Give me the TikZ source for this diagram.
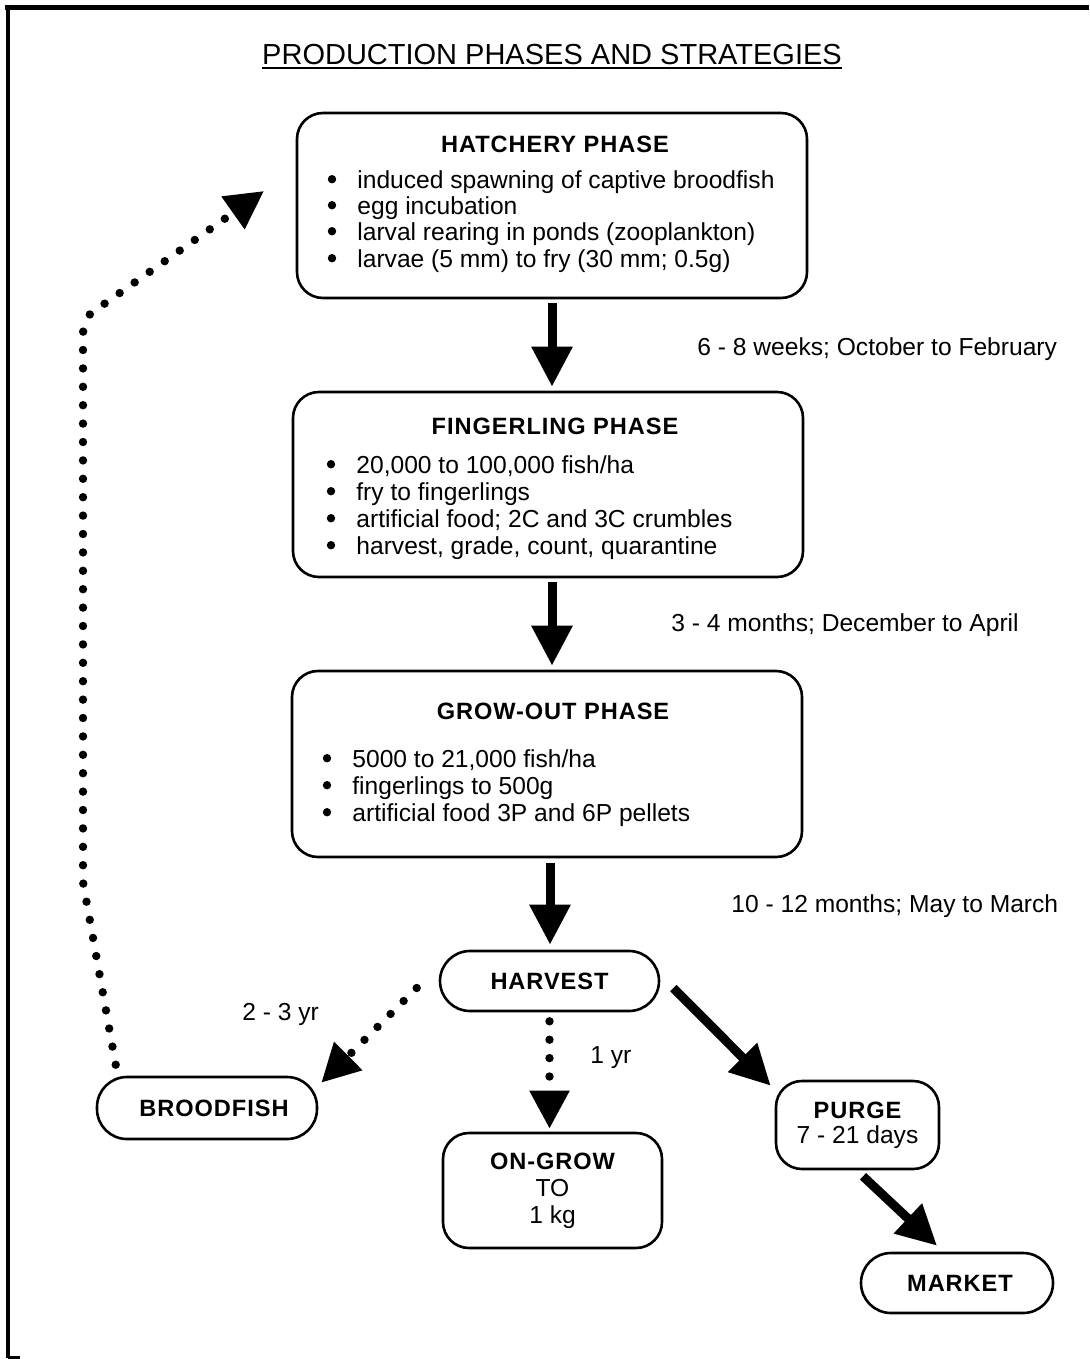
\documentclass[tikz,border=0pt]{standalone}
\usepackage{fontspec}
\setmainfont{Liberation Sans}
\usetikzlibrary{arrows.meta}
\newcommand\hdfont{\fontsize{11.8}{14}\selectfont\bfseries\addfontfeature{LetterSpace=4}}
\begin{document}
\begin{tikzpicture}[x=0.5pt,y=-0.5pt,
  box/.style={draw, line width=1.3pt, rounded corners=13pt, inner sep=0pt},
  pill/.style={draw, line width=1.3pt, rounded corners=15pt, inner sep=0pt,
    font=\hdfont},
  hd/.style={font=\hdfont, inner sep=0pt, anchor=base},
  txt/.style={font=\fontsize{12.3}{15}\selectfont, inner sep=0pt, anchor=base west},
  bigarrow/.style={line width=4.5pt, -{Triangle[length=20pt,width=19.5pt]}},
  dotarrow/.style={line width=4.2pt, dash pattern=on 0pt off 9.2pt, line cap=round,
    -{Triangle[length=19pt,width=19pt]}},
]
\useasboundingbox (0,0) rectangle (1089,1359);
% frame
\draw[line width=2.5pt] (5,8) -- (1089,8);
\draw[line width=2pt] (8,8) -- (8,1358);
\draw[line width=1.5pt] (8,1357) -- (20,1357);

% title
\node[font=\fontsize{14.5}{17}\selectfont, inner sep=0pt, anchor=base] (title) at (552,65) {PRODUCTION PHASES AND STRATEGIES};
\draw[line width=1pt] ([yshift=-1.4pt]title.base west) -- ([yshift=-1.4pt]title.base east);

% hatchery
\node[box, minimum width=255pt, minimum height=92.5pt] (hatch) at (552,205.5) {};
\node[hd] (hatchT) at (555,153) {HATCHERY PHASE};
\node[txt] (h1) at (357,188) {induced spawning of captive broodfish};
\node[txt] (h2) at (357,214) {egg incubation};
\node[txt] (h3) at (357,240) {larval rearing in ponds (zooplankton)};
\node[txt] (h4) at (357,267) {larvae (5 mm) to fry (30 mm; 0.5g)};

% fingerling
\node[box, minimum width=255pt, minimum height=92.5pt] (fing) at (548,484.5) {};
\node[hd] (fingT) at (555,434) {FINGERLING PHASE};
\node[txt] (f1) at (356,473) {20,000 to 100,000 fish/ha};
\node[txt] (f2) at (356,500) {fry to fingerlings};
\node[txt] (f3) at (356,527) {artificial food; 2C and 3C crumbles};
\node[txt] (f4) at (356,554) {harvest, grade, count, quarantine};

% grow-out
\node[box, minimum width=255pt, minimum height=93pt] (grow) at (547,764) {};
\node[hd] (growT) at (553,719) {GROW-OUT PHASE};
\node[txt] (g1) at (352,767) {5000 to 21,000 fish/ha};
\node[txt] (g2) at (352,794) {fingerlings to 500g};
\node[txt] (g3) at (352,821) {artificial food 3P and 6P pellets};

% bullets
\foreach \n in {h1,h2,h3,h4,f1,f2,f3,f4,g1,g2,g3}
  \fill ([xshift=-12.5pt,yshift=4.4pt]\n.base west) circle (2.1pt);

% small nodes
\node[pill, minimum width=109.5pt, minimum height=30pt] (harv) at (549.5,981) {HARVEST\hspace{10pt}};
\node[pill, minimum width=110pt, minimum height=31pt] (brood) at (207,1108) {\hspace{7pt}BROODFISH};
\node[pill, minimum width=96pt, minimum height=30pt] (market) at (957,1283) {\hspace{3pt}MARKET};
\node[box, minimum width=81.5pt, minimum height=44pt, align=center,
  font=\fontsize{12.3}{12.5}\selectfont] (purge) at (857.5,1125)
  {{\hdfont PURGE}\\7 - 21 days};
\node[box, minimum width=109.5pt, minimum height=57.5pt, align=center,
  font=\fontsize{12.3}{13.5}\selectfont] (ongrow) at (552.5,1190.5)
  {{\hdfont ON-GROW}\\TO\\1 kg};

% labels
\node[txt] (l1) at (697,355) {6 - 8 weeks; October to February};
\node[txt] (l2) at (671,631) {3 - 4 months; December to April};
\node[txt] (l3) at (731,912) {10 - 12 months; May to March};
\node[txt] (l4) at (242,1020) {2 - 3 yr};
\node[txt] (l5) at (590,1063) {1 yr};

% solid arrows
\draw[bigarrow] ([yshift=-2pt]hatch.south) -- ([yshift=2pt]hatch.south |- fing.north);
\draw[bigarrow] ([xshift=2pt,yshift=-2pt]fing.south) -- ([xshift=2pt,yshift=2pt]fing.south |- grow.north);
\draw[bigarrow] ([xshift=1.5pt,yshift=-2.5pt]grow.south) -- ([xshift=1.5pt,yshift=2.5pt]grow.south |- harv.north);
\draw[bigarrow] ([shift={(6.5pt,-3.5pt)}]harv.east) -- ([shift={(-2pt,-3pt)}]purge.north west);
\draw[bigarrow] ([shift={(2.75pt,-3pt)}]purge.south) -- ([shift={(-10pt,3pt)}]market.north);

% dotted arrows
\coordinate (hatchtip) at (264,191);
\draw[dotarrow] ([shift={(-11pt,-3.5pt)}]harv.west) -- ([shift={(1.5pt,-3.5pt)}]brood.north east);
\draw[dotarrow] ([yshift=-4.5pt]harv.south) -- ([yshift=1.5pt]harv.south |- ongrow.north);
\draw[dotarrow] ([shift={(10pt,5.5pt)}]brood.north west) -- (83,882) -- (83,332) -- (90,314) -- (hatchtip);
\end{tikzpicture}
\end{document}
